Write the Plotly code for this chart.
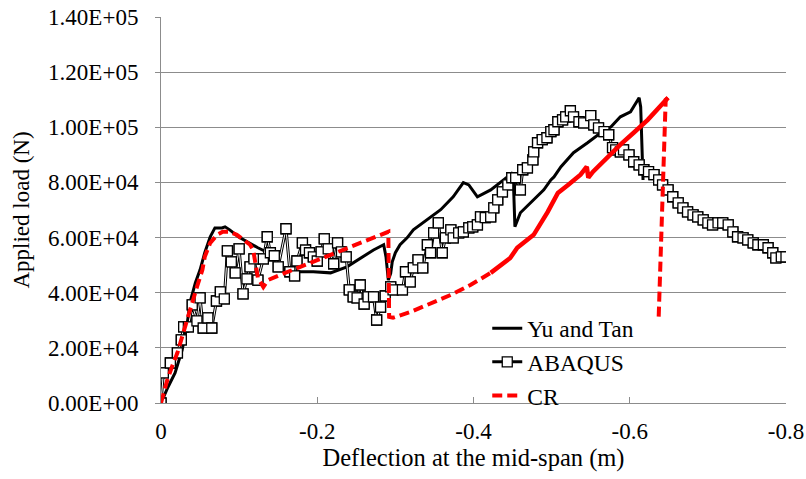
import plotly.graph_objects as go

# Load-deflection curves at mid-span (deflection in m, load in N)
yu_tan_defl = [0.000, -0.009, -0.018, -0.027, -0.033, -0.037, -0.044, -0.050, -0.056, -0.063,
               -0.069, -0.078, -0.082, -0.088, -0.099, -0.112, -0.124, -0.137, -0.153, -0.165,
               -0.178, -0.195, -0.217, -0.238, -0.255, -0.272, -0.285, -0.288, -0.291, -0.294,
               -0.296, -0.300, -0.306, -0.315, -0.323, -0.341, -0.358, -0.374, -0.387, -0.394,
               -0.405, -0.422, -0.438, -0.450, -0.451, -0.453, -0.460, -0.473, -0.490, -0.499,
               -0.503, -0.512, -0.528, -0.546, -0.563, -0.576, -0.588, -0.601, -0.612, -0.614,
               -0.617]
yu_tan_load = [0, 5800, 10900, 19200, 27600, 36300, 43600, 48300, 54500, 60300,
               63500, 63500, 63900, 62800, 60300, 58100, 56300, 54500, 49400, 47200,
               47600, 47600, 47200, 49400, 52600, 55500, 57400, 53000, 44600, 47000,
               51200, 54500, 57400, 59900, 62800, 66400, 70100, 74800, 79900, 79100,
               74800, 77300, 80900, 83500, 80900, 63900, 69000, 72600, 77300, 80900,
               82000, 85700, 90800, 94400, 98000, 100200, 103800, 105600, 110700, 107400,
               80900]

abaqus_defl = [0.000, -0.003, -0.012, -0.021, -0.026, -0.029, -0.035, -0.040, -0.046, -0.050,
               -0.054, -0.060, -0.065, -0.071, -0.076, -0.081, -0.085, -0.090, -0.095, -0.100,
               -0.105, -0.110, -0.114, -0.119, -0.124, -0.131, -0.136, -0.140, -0.145, -0.150,
               -0.160, -0.165, -0.171, -0.174, -0.181, -0.185, -0.190, -0.195, -0.200, -0.205,
               -0.209, -0.214, -0.221, -0.226, -0.231, -0.237, -0.241, -0.246, -0.251, -0.255,
               -0.260, -0.265, -0.272, -0.276, -0.281, -0.287, -0.294, -0.297, -0.309, -0.313,
               -0.319, -0.323, -0.329, -0.335, -0.341, -0.345, -0.349, -0.355, -0.360, -0.364,
               -0.371, -0.374, -0.381, -0.387, -0.394, -0.399, -0.405, -0.409, -0.415, -0.422,
               -0.426, -0.431, -0.437, -0.444, -0.449, -0.454, -0.460, -0.463, -0.469, -0.476,
               -0.477, -0.482, -0.488, -0.494, -0.499, -0.503, -0.508, -0.514, -0.518, -0.524,
               -0.528, -0.535, -0.541, -0.550, -0.554, -0.560, -0.567, -0.573, -0.578, -0.582,
               -0.588, -0.592, -0.599, -0.605, -0.612, -0.618, -0.624, -0.631, -0.637, -0.642,
               -0.649, -0.655, -0.662, -0.668, -0.674, -0.681, -0.687, -0.694, -0.700, -0.706,
               -0.713, -0.719, -0.726, -0.732, -0.738, -0.745, -0.751, -0.758, -0.764, -0.771,
               -0.777, -0.783, -0.787, -0.794, -0.800]
abaqus_load = [0, 10900, 14500, 18200, 22900, 27600, 27600, 35600, 29800, 38100,
               27200, 30900, 27200, 37000, 40300, 37800, 55200, 51200, 47200, 55900,
               39600, 45000, 49400, 52300, 44600, 52300, 60300, 54500, 53400, 49400,
               63200, 47600, 46100, 51500, 58100, 55500, 54500, 53000, 51500, 54800,
               59500, 55900, 50500, 58100, 54800, 53000, 41000, 38500, 38100, 42800,
               35900, 38500, 38500, 30100, 34800, 38800, 42100, 41000, 41000, 47600,
               43900, 49000, 51900, 49000, 57400, 54500, 61700, 65300, 54500, 59900,
               62800, 59900, 61700, 62100, 63500, 63900, 64600, 67500, 67200, 67500,
               70800, 73700, 76600, 79100, 81700, 81700, 77300, 84600, 85300, 88200,
               91100, 94400, 95500, 96200, 98400, 99100, 102000, 102700, 103800, 106000,
               103800, 102000, 101600, 104200, 100900, 99800, 98400, 97300, 92600, 91800,
               91100, 91800, 90000, 87500, 86400, 84600, 83900, 82800, 80900, 79100,
               77300, 74800, 72600, 70800, 69300, 68200, 67500, 66400, 65300, 64600,
               65300, 65300, 64600, 62100, 60300, 59900, 59200, 58100, 57400, 57400,
               56300, 54500, 52600, 53000, 53000]

# CR curve in three pieces: sparse dashed branch, dense branch, final drop
cr_defl_a = [0.000, -0.008, -0.014, -0.021, -0.027, -0.033, -0.040, -0.046, -0.053, -0.056,
             -0.063, -0.072, -0.079, -0.088, -0.097, -0.105, -0.114, -0.118, -0.121, -0.124,
             -0.131, -0.137, -0.153, -0.291, -0.292, -0.297, -0.319, -0.345, -0.371, -0.396,
             -0.422]
cr_load_a = [0, 8300, 13100, 18200, 24000, 30100, 36300, 42100, 48300, 53000,
             58100, 61000, 62100, 62100, 61000, 59200, 57400, 55500, 50100, 45400,
             42100, 44600, 46500, 62100, 31200, 30900, 33000, 36300, 39200, 42800,
             47200]
cr_defl_b = [-0.422, -0.435, -0.447, -0.456, -0.477, -0.495, -0.508, -0.521, -0.537, -0.545,
             -0.547, -0.553, -0.572, -0.588, -0.605, -0.623, -0.649]
cr_load_b = [47200, 50100, 52600, 56300, 61000, 69300, 76200, 79100, 82800, 85700,
             81700, 83900, 89300, 93700, 98000, 102700, 110700]
cr_defl_c = [-0.649, -0.646, -0.637]
cr_load_c = [110700, 110000, 30900]

x_tick_vals = [0, -0.2, -0.4, -0.6, -0.8]
x_tick_text = ["0", "-0.2", "-0.4", "-0.6", "-0.8"]
y_tick_vals = [0, 20000, 40000, 60000, 80000, 100000, 120000, 140000]
y_tick_text = ["0.00E+00", "2.00E+04", "4.00E+04", "6.00E+04",
               "8.00E+04", "1.00E+05", "1.20E+05", "1.40E+05"]

FONT = "Liberation Serif"
RED = "#ff0000"
DASH = "10px,5px"
AXIS_GREY = "#8c8c8c"

fig = go.Figure()

fig.add_trace(go.Scatter(
    x=yu_tan_defl, y=yu_tan_load, mode="lines", name="Yu and Tan",
    line=dict(color="black", width=3), legendrank=1))

# ABAQUS: dark outline line with markers, a light core line, then markers on top
fig.add_trace(go.Scatter(
    x=abaqus_defl, y=abaqus_load, mode="lines+markers", name="ABAQUS",
    line=dict(color="black", width=3), legendrank=2,
    marker=dict(symbol="square", size=10, color="white",
                line=dict(color="black", width=1.3))))
fig.add_trace(go.Scatter(
    x=abaqus_defl, y=abaqus_load, mode="lines", showlegend=False,
    line=dict(color="white", width=1), hoverinfo="skip"))
fig.add_trace(go.Scatter(
    x=abaqus_defl, y=abaqus_load, mode="markers", showlegend=False,
    marker=dict(symbol="square", size=10, color="white",
                line=dict(color="black", width=1.3))))

fig.add_trace(go.Scatter(
    x=cr_defl_a, y=cr_load_a, mode="lines", name="CR", legendgroup="cr",
    line=dict(color=RED, width=4, dash=DASH), legendrank=3))
fig.add_trace(go.Scatter(
    x=cr_defl_b, y=cr_load_b, mode="lines", showlegend=False, legendgroup="cr",
    line=dict(color=RED, width=4.5)))
fig.add_trace(go.Scatter(
    x=cr_defl_c, y=cr_load_c, mode="lines", showlegend=False, legendgroup="cr",
    line=dict(color=RED, width=4, dash=DASH)))

fig.update_layout(
    width=806, height=479,
    margin=dict(l=161, r=20, t=17, b=76, autoexpand=False),
    paper_bgcolor="white", plot_bgcolor="white",
    font=dict(family=FONT, size=23, color="black"),
    showlegend=True,
    legend=dict(x=0.522, y=0.25, xanchor="left", yanchor="top",
                bgcolor="rgba(0,0,0,0)", font=dict(family=FONT, size=23.5),
                tracegroupgap=0),
)

fig.update_xaxes(
    range=[0, -0.8], tickvals=x_tick_vals, ticktext=x_tick_text, automargin=False,
    showgrid=False, zeroline=False, showline=True, linecolor=AXIS_GREY, linewidth=1,
    ticks="inside", ticklen=6, tickcolor=AXIS_GREY, ticklabelstandoff=7,
    tickfont=dict(family=FONT, size=23),
    title=dict(text="Deflection at the mid-span (m)", standoff=4,
               font=dict(family=FONT, size=24.5)),
)
fig.update_yaxes(
    range=[0, 140000], tickvals=y_tick_vals, ticktext=y_tick_text, automargin=False,
    showgrid=True, gridcolor=AXIS_GREY, gridwidth=1,
    zeroline=False, showline=True, linecolor=AXIS_GREY, linewidth=1,
    ticks="outside", ticklen=5, tickcolor=AXIS_GREY, ticklabelstandoff=12,
    tickfont=dict(family=FONT, size=23),
    title=dict(text="Applied load (N)", standoff=12, font=dict(family=FONT, size=23)),
)

fig.write_html("out.html")
